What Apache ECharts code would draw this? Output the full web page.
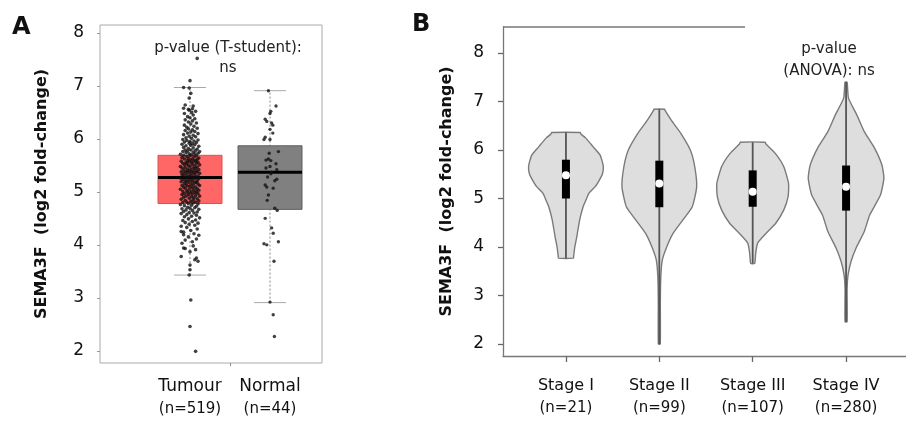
<!DOCTYPE html>
<html><head><meta charset="utf-8">
<script src="https://cdn.jsdelivr.net/npm/echarts@6/dist/echarts.min.js"></script>
<style>html,body{margin:0;padding:0;background:#fff}#c{width:906px;height:421px}</style>
</head><body><div id="c"></div>
<script>
// ---------- Panel A data ----------
const groupsA = ['Tumour', 'Normal'];
const countsA = [519, 44];
const lowerA = [3.43, 2.91];
const q1A = [4.78, 4.67];
const medianA = [5.27, 5.37];
const q3A = [5.69, 5.87];
const upperA = [6.97, 6.91];
const yTicks = [2, 3, 4, 5, 6, 7, 8];
// [horizontal jitter (in group units), value]
const tumourPoints = [
[-0.06,3.93],[0.04,3.98],[-0.10,4.03],[0.08,4.11],[-0.02,4.15],[0.11,4.18],
[0.05,4.21],[-0.08,4.24],[0.01,4.27],[0.09,4.30],[-0.04,4.33],[-0.11,4.35],[0.06,4.37],[-0.01,4.39],
[0.10,4.41],[-0.06,4.42],[0.03,4.44],[-0.09,4.46],[0.07,4.47],[-0.02,4.49],[0.12,4.51],[-0.07,4.53],[0.02,4.54],[0.08,4.56],[-0.04,4.57],[-0.11,4.59],
[0.05,4.60],[-0.01,4.61],[0.09,4.62],[-0.08,4.63],[0.03,4.65],[-0.05,4.66],[0.11,4.67],[-0.10,4.68],[0.00,4.69],[0.06,4.70],[-0.03,4.71],[0.08,4.73],[-0.07,4.74],[0.02,4.75],[-0.12,4.76],[0.10,4.77],[-0.02,4.78],[0.04,4.79],
[-0.09,4.80],[0.07,4.81],[-0.04,4.81],[0.01,4.82],[0.11,4.83],[-0.06,4.84],[0.04,4.85],[-0.11,4.86],[0.09,4.87],[-0.01,4.88],[0.05,4.89],[-0.08,4.90],[0.02,4.91],[0.12,4.92],[-0.05,4.92],[0.07,4.93],[-0.02,4.94],[-0.10,4.95],[0.03,4.96],[0.10,4.97],[-0.07,4.97],[0.00,4.98],[0.06,4.99],[-0.03,4.99],
[0.08,5.00],[-0.09,5.01],[0.02,5.01],[-0.04,5.02],[0.11,5.03],[0.05,5.04],[-0.12,5.05],[-0.01,5.05],[0.09,5.06],[-0.06,5.07],[0.03,5.08],[-0.08,5.09],[0.07,5.09],[0.00,5.10],[-0.03,5.11],[0.12,5.12],[-0.10,5.12],[0.04,5.13],[-0.05,5.14],[0.10,5.15],[0.01,5.15],[-0.07,5.16],[0.06,5.17],[-0.02,5.18],[0.08,5.18],[-0.11,5.19],[0.03,5.19],[-0.04,5.20],
[0.09,5.21],[-0.06,5.21],[0.01,5.22],[-0.09,5.23],[0.05,5.24],[-0.02,5.24],[0.11,5.25],[-0.12,5.26],[0.03,5.27],[-0.05,5.27],[0.07,5.28],[-0.01,5.29],[0.10,5.30],[-0.08,5.30],[0.02,5.31],[-0.04,5.32],[0.06,5.33],[-0.10,5.33],[0.00,5.34],[0.12,5.35],[-0.07,5.35],[0.04,5.36],[-0.03,5.37],[0.08,5.37],[-0.11,5.38],[0.02,5.38],[0.09,5.39],[-0.05,5.39],[-0.01,5.40],[0.05,5.40],
[-0.08,5.41],[0.11,5.42],[0.01,5.42],[-0.03,5.43],[0.07,5.44],[-0.10,5.45],[0.04,5.45],[-0.06,5.46],[0.09,5.47],[0.00,5.48],[-0.12,5.48],[0.06,5.49],[-0.02,5.50],[0.12,5.51],[-0.07,5.51],[0.03,5.52],[-0.04,5.53],[0.08,5.54],[-0.09,5.54],[0.02,5.55],[0.10,5.56],[-0.05,5.56],[-0.01,5.57],[0.05,5.58],[-0.11,5.58],[0.07,5.59],[-0.03,5.59],[0.01,5.60],
[0.09,5.61],[-0.07,5.62],[0.03,5.62],[-0.02,5.63],[0.11,5.64],[-0.10,5.65],[0.05,5.66],[-0.04,5.67],[0.00,5.68],[0.08,5.68],[-0.08,5.69],[0.02,5.70],[-0.12,5.71],[0.06,5.72],[-0.01,5.72],[0.10,5.73],[-0.05,5.74],[0.04,5.75],[-0.09,5.76],[0.12,5.76],[-0.03,5.77],[0.07,5.78],[0.01,5.79],[-0.06,5.79],
[0.09,5.81],[-0.02,5.82],[0.04,5.83],[-0.08,5.84],[0.11,5.86],[-0.05,5.87],[0.01,5.88],[0.06,5.89],[-0.10,5.90],[0.03,5.91],[-0.01,5.92],[0.08,5.93],[-0.07,5.94],[0.00,5.95],[0.05,5.96],[-0.04,5.97],[0.10,5.98],[-0.09,5.99],
[0.02,6.01],[-0.05,6.02],[0.07,6.04],[-0.01,6.05],[0.04,6.07],[-0.08,6.08],[0.10,6.10],[-0.03,6.11],[0.01,6.13],[0.06,6.14],[-0.06,6.16],[0.03,6.17],[-0.02,6.19],[0.09,6.20],
[-0.04,6.22],[0.05,6.24],[-0.07,6.26],[0.01,6.28],[0.08,6.30],[-0.02,6.32],[0.03,6.34],[-0.06,6.36],[0.06,6.38],[0.00,6.40],
[-0.03,6.42],[0.04,6.45],[-0.07,6.48],[0.02,6.50],[0.07,6.52],[-0.01,6.54],[0.03,6.57],
[-0.08,6.58],[-0.02,6.56],[0.04,6.62],[-0.06,6.64],[-0.01,6.77],[0.01,6.86],[-0.01,6.96],[-0.08,6.97],[0.00,7.10],[0.09,7.52],
[-0.11,4.25],[-0.08,4.19],[-0.06,4.09],[0.03,4.06],[-0.08,3.94],[0.07,3.91],[0.00,3.87],[-0.11,3.78],[0.08,3.75],[0.06,3.72],[0.10,3.69],[0.00,3.62],[0.00,3.53],[-0.01,3.43],[0.01,2.96],[0.00,2.46],[0.07,1.99]
];
const normalPoints = [
[-0.02,6.91],[0.075,6.62],[0.01,6.52],[0.00,6.48],[-0.06,6.37],[-0.04,6.33],[0.02,6.30],[0.035,6.26],[0.00,6.18],[0.035,6.11],
[-0.06,6.03],[-0.075,5.99],[0.00,5.99],[0.105,5.76],[-0.01,5.73],[-0.02,5.62],[-0.05,5.60],[0.01,5.59],[0.075,5.53],[0.00,5.48],
[-0.05,5.45],[0.085,5.42],[0.02,5.37],[0.01,5.34],[-0.03,5.28],[0.085,5.24],[0.06,5.21],[-0.06,5.13],[-0.04,5.09],[0.04,5.07],
[-0.02,4.94],[-0.035,4.84],[0.06,4.69],[0.09,4.65],[-0.06,4.50],[0.02,4.32],[0.04,4.22],[0.105,4.06],[-0.075,4.02],[-0.04,4.00],
[0.05,3.69],[0.00,2.92],[0.04,2.68],[0.055,2.27]
];

// ---------- Panel B data ----------
const stagesB = ['Stage I', 'Stage II', 'Stage III', 'Stage IV'];
const countsB = [21, 99, 107, 280];
const minB = [3.77, 2.00, 3.66, 2.46];
const q1B = [5.00, 4.82, 4.83, 4.75];
const medianB = [5.48, 5.31, 5.14, 5.24];
const q3B = [5.80, 5.78, 5.58, 5.68];
const maxB = [6.36, 6.84, 6.16, 7.40];
// violin outline: [value, half-width in stage units]
const stage1Density = [[3.77,0.081],[3.80,0.082],[4.0,0.095],[4.21,0.116],[4.56,0.147],[4.83,0.184],[4.95,0.21],[5.11,0.247],[5.25,0.316],[5.38,0.358],[5.5,0.39],[5.67,0.40],[5.9,0.365],[6.07,0.29],[6.25,0.21],[6.33,0.16],[6.36,0.153]];
const stage2Density = [[2.0,0.01],[2.9,0.011],[3.39,0.016],[3.73,0.032],[4.0,0.079],[4.28,0.147],[4.56,0.253],[4.83,0.353],[5.24,0.40],[5.66,0.379],[6.0,0.332],[6.34,0.232],[6.62,0.126],[6.82,0.06],[6.84,0.058]];
const stage3Density = [[3.66,0.021],[3.87,0.032],[4.08,0.053],[4.28,0.142],[4.49,0.247],[4.76,0.332],[5.04,0.379],[5.31,0.384],[5.66,0.332],[5.93,0.242],[6.13,0.14],[6.16,0.132]];
const stage4Density = [[2.46,0.011],[3.15,0.011],[3.42,0.021],[3.70,0.053],[3.97,0.105],[4.32,0.195],[4.66,0.253],[5.07,0.368],[5.42,0.405],[5.69,0.384],[6.04,0.305],[6.38,0.195],[6.72,0.116],[7.07,0.026],[7.40,0.011]];
const densitiesB = [stage1Density, stage2Density, stage3Density, stage4Density];

// ---------- chart ----------
const FONT = 'DejaVu Sans';
const chart = echarts.init(document.getElementById('c'), null, {renderer: 'canvas'});
const boxFill = ['#ff6666', '#808080'];
const boxStroke = ['#d9534f', '#5e5e5e'];

function renderBoxA(params, api) {
  const i = params.dataIndex;
  const x = api.value(0);
  const lo = api.coord([x, api.value(1)]);
  const hi = api.coord([x, api.value(5)]);
  const tl = api.coord([x - 0.4, api.value(4)]);
  const br = api.coord([x + 0.4, api.value(2)]);
  const mL = api.coord([x - 0.4, api.value(3)]);
  const mR = api.coord([x + 0.4, api.value(3)]);
  const cL = api.coord([x - 0.2, 0])[0], cR = api.coord([x + 0.2, 0])[0];
  return {type: 'group', children: [
    {type: 'line', shape: {x1: lo[0], y1: lo[1], x2: hi[0], y2: hi[1]}, style: {stroke: '#888', lineWidth: 1, lineDash: [2, 2]}},
    {type: 'line', shape: {x1: cL, y1: lo[1], x2: cR, y2: lo[1]}, style: {stroke: '#aaa', lineWidth: 1}},
    {type: 'line', shape: {x1: cL, y1: hi[1], x2: cR, y2: hi[1]}, style: {stroke: '#aaa', lineWidth: 1}},
    {type: 'rect', shape: {x: tl[0], y: tl[1], width: br[0] - tl[0], height: br[1] - tl[1]}, style: {fill: boxFill[i], stroke: boxStroke[i], lineWidth: 1}},
    {type: 'line', shape: {x1: mL[0], y1: mL[1], x2: mR[0], y2: mR[1]}, style: {stroke: '#000', lineWidth: 3}}
  ]};
}

function renderViolin(params, api) {
  const pos = api.value(0);
  const prof = densitiesB[params.dataIndex];
  const right = prof.map(p => api.coord([pos + p[1], p[0]]));
  const left = prof.slice().reverse().map(p => api.coord([pos - p[1], p[0]]));
  return {type: 'polygon', shape: {points: right.concat(left), smooth: 0.18},
    style: {fill: '#dedede', stroke: '#7a7a7a', lineWidth: 1.4}};
}

function renderBoxB(params, api) {
  const pos = api.value(0);
  const lo = api.coord([pos, api.value(1)]);
  const q1 = api.coord([pos, api.value(2)]);
  const md = api.coord([pos, api.value(3)]);
  const q3 = api.coord([pos, api.value(4)]);
  const hi = api.coord([pos, api.value(5)]);
  return {type: 'group', children: [
    {type: 'line', shape: {x1: lo[0], y1: lo[1], x2: hi[0], y2: hi[1]}, style: {stroke: '#555', lineWidth: 1.8}},
    {type: 'rect', shape: {x: q3[0] - 4, y: q3[1], width: 8, height: q1[1] - q3[1]}, style: {fill: '#000'}},
    {type: 'circle', shape: {cx: md[0], cy: md[1], r: 4}, style: {fill: '#fff'}}
  ]};
}

const option = {
  animation: false,
  textStyle: {fontFamily: FONT},
  grid: [
    {left: 100, top: 25, width: 222, height: 338, show: true, borderColor: '#aaa', borderWidth: 1},
    {left: 503, top: 27, width: 410, height: 329, show: false}
  ],
  xAxis: [
    {gridIndex: 0, type: 'value', min: -0.125, max: 2.65,
     axisLine: {show: false, onZero: false}, splitLine: {show: false},
     axisTick: {show: true, customValues: [1.5], length: 3, lineStyle: {color: '#888'}},
     axisLabel: {customValues: [1, 2], margin: 12, color: '#111',
       formatter: v => '{a|' + groupsA[Math.round(v) - 1] + '}\n{b|(n=' + countsA[Math.round(v) - 1] + ')}',
       rich: {a: {fontSize: 17, lineHeight: 23, fontFamily: FONT, color: '#111'}, b: {fontSize: 15, lineHeight: 22, fontFamily: FONT, color: '#111'}}}},
    {gridIndex: 1, type: 'value', min: 0.326, max: 0.326 + 410 / 95,
     axisLine: {show: true, onZero: false, lineStyle: {color: '#777', width: 1.3}}, splitLine: {show: false},
     axisTick: {show: true, customValues: [1, 2, 3, 4], length: 6, lineStyle: {color: '#666', width: 1.3}},
     axisLabel: {customValues: [1, 2, 3, 4], margin: 18, color: '#111',
       formatter: v => '{a|' + stagesB[Math.round(v) - 1] + '}\n{b|(n=' + countsB[Math.round(v) - 1] + ')}',
       rich: {a: {fontSize: 16, lineHeight: 23, fontFamily: FONT, color: '#111'}, b: {fontSize: 15, lineHeight: 22, fontFamily: FONT, color: '#111'}}}}
  ],
  yAxis: [
    {gridIndex: 0, type: 'value', min: 1.77, max: 8.15,
     name: 'SEMA3F  (log2 fold-change)', nameLocation: 'middle', nameRotate: 90, nameGap: 50,
     nameTextStyle: {fontSize: 16, fontWeight: 'bold', color: '#111', fontFamily: FONT},
     axisLine: {show: false, onZero: false}, splitLine: {show: false},
     axisTick: {show: true, customValues: yTicks, length: 3, lineStyle: {color: '#999'}},
     axisLabel: {customValues: yTicks, margin: 16, fontSize: 17, color: '#111'}},
    {gridIndex: 1, type: 'value', min: 1.753, max: 8.536,
     name: 'SEMA3F  (log2 fold-change)', nameLocation: 'middle', nameRotate: 90, nameGap: 48,
     nameTextStyle: {fontSize: 16, fontWeight: 'bold', color: '#111', fontFamily: FONT},
     axisLine: {show: true, onZero: false, lineStyle: {color: '#777', width: 1.3}}, splitLine: {show: false},
     axisTick: {show: true, customValues: yTicks, length: 5, lineStyle: {color: '#666', width: 1.3}},
     axisLabel: {customValues: yTicks, margin: 19, fontSize: 17, color: '#111'}}
  ],
  series: [
    {type: 'custom', xAxisIndex: 0, yAxisIndex: 0, renderItem: renderBoxA,
     encode: {x: 0, y: [1, 2, 3, 4, 5]},
     data: groupsA.map((g, i) => [i + 1, lowerA[i], q1A[i], medianA[i], q3A[i], upperA[i]]), z: 2},
    {type: 'scatter', xAxisIndex: 0, yAxisIndex: 0, symbol: 'circle', symbolSize: 3.6,
     itemStyle: {color: '#111'}, data: tumourPoints.map(p => [1 + p[0], p[1]]), z: 3},
    {type: 'scatter', xAxisIndex: 0, yAxisIndex: 0, symbol: 'circle', symbolSize: 3.4,
     itemStyle: {color: '#111'}, data: normalPoints.map(p => [2 + p[0], p[1]]), z: 3},
    {type: 'custom', xAxisIndex: 1, yAxisIndex: 1, renderItem: renderViolin,
     encode: {x: 0, y: 1}, data: stagesB.map((s, i) => [i + 1, medianB[i]]), z: 2},
    {type: 'custom', xAxisIndex: 1, yAxisIndex: 1, renderItem: renderBoxB,
     encode: {x: 0, y: [1, 2, 3, 4, 5]},
     data: stagesB.map((s, i) => [i + 1, minB[i], q1B[i], medianB[i], q3B[i], maxB[i]]), z: 3}
  ],
  graphic: [
    {type: 'text', left: 12, top: 16, style: {text: 'A', fontSize: 24, fontWeight: 'bold', fontFamily: FONT, fill: '#111'}},
    {type: 'text', left: 412, top: 13, style: {text: 'B', fontSize: 24, fontWeight: 'bold', fontFamily: FONT, fill: '#111'}},
    {type: 'text', x: 228, y: 38, style: {text: 'p-value (T-student):\nns', fontSize: 15, lineHeight: 20, align: 'center', fontFamily: FONT, fill: '#222'}},
    {type: 'text', x: 829, y: 38, style: {text: 'p-value\n(ANOVA): ns', fontSize: 15, lineHeight: 22, align: 'center', fontFamily: FONT, fill: '#222'}},
    {type: 'line', shape: {x1: 503, y1: 27, x2: 745, y2: 27}, style: {stroke: '#777', lineWidth: 1.3}}
  ]
};
chart.setOption(option);
</script>
</body></html>
